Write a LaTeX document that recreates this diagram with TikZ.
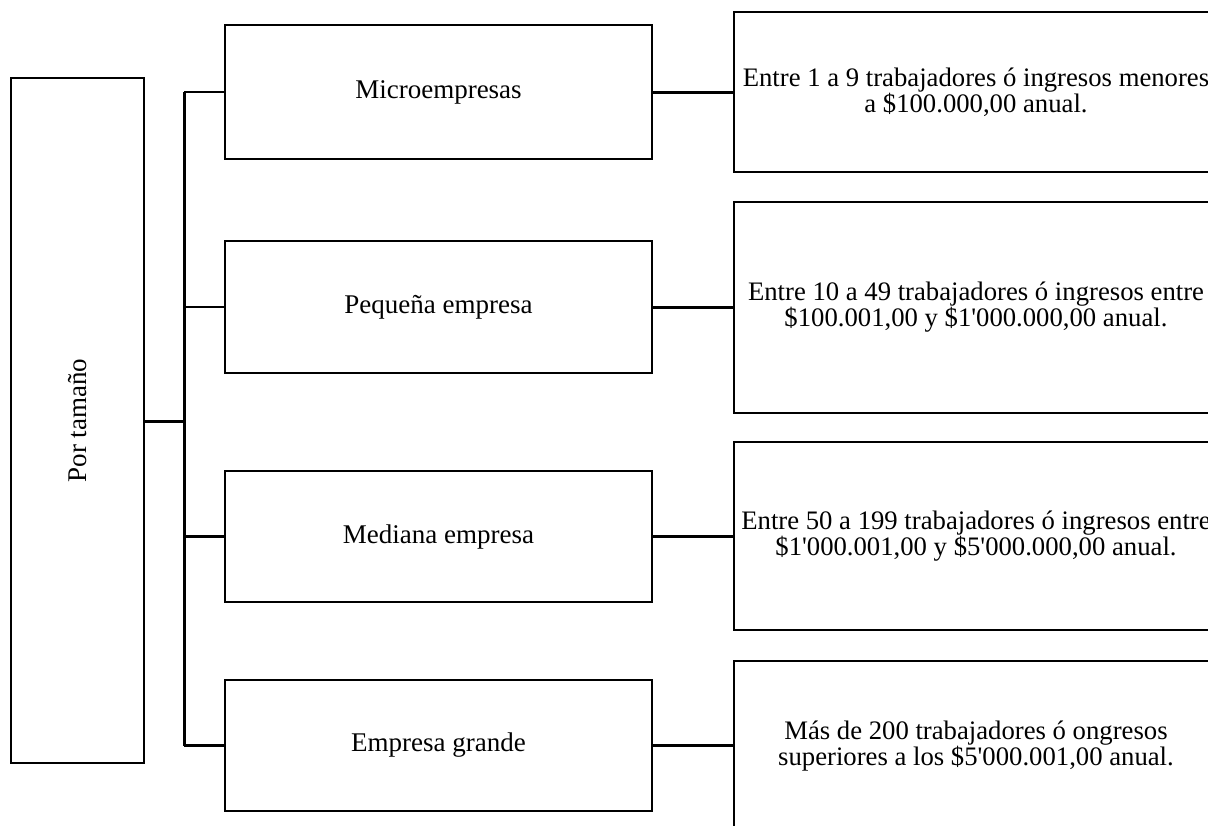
\documentclass[tikz,border=0pt]{standalone}
\usepackage{fontspec}
\setmainfont{Liberation Serif}
\newfontfamily\plainserif{Liberation Serif}
\newcommand{\apo}{{\plainserif'}}
\begin{document}
\begin{tikzpicture}[x=1pt,y=-1pt,
  box/.style={draw=black,line width=2pt,fill=white,inner sep=0pt,align=center,
    font=\fontsize{27}{26}\selectfont},
  midbox/.style={box,minimum width=427pt},
  rbox/.style={box,minimum width=484pt,font=\fontsize{26.7}{26}\selectfont},
  link/.style={line width=3pt},
  branch/.style={line width=2.2pt}]
\useasboundingbox (0,0) rectangle (1208,825);
\clip (0,0) rectangle (1208,825);
\fill[white] (0,0) rectangle (1208,825);
% left box
\node[box,minimum width=133pt,minimum height=685pt] (L) at (77.5,420.5) {};
\node[rotate=90,font=\fontsize{27}{26}\selectfont,inner sep=0pt] (Lt) at (L.center) {Por tamaño};
% middle boxes
\node[midbox,minimum height=134pt] (M1) at (438.5,92) {Microempresas};
\node[midbox,minimum height=132pt] (M2) at (438.5,307) {Pequeña empresa};
\node[midbox,minimum height=131pt] (M3) at (438.5,536.5) {Mediana empresa};
\node[midbox,minimum height=131pt] (M4) at (438.5,745.5) {Empresa grande};
% right boxes
\node[rbox,minimum height=160pt] (R1) at (976,92) {Entre 1 a 9 trabajadores ó ingresos menores\\a \$100.000,00 anual.};
\node[rbox,minimum height=211pt] (R2) at (976,307.5) {Entre 10 a 49 trabajadores ó ingresos entre\\\$100.001,00 y \$1\apo000.000,00 anual.};
\node[rbox,minimum height=188pt] (R3) at (976,536) {Entre 50 a 199 trabajadores ó ingresos entre\\\$1\apo000.001,00 y \$5\apo000.000,00 anual.};
\node[rbox,minimum height=170pt] (R4) at (976,746) {Más de 200 trabajadores ó ongresos\\superiores a los \$5\apo000.001,00 anual.};
% connectors
\coordinate (T) at (184,421);
\draw[link] (L.east |- T) -- (T);
\draw[link] (M1.west -| T) -- (M4.west -| T);
\draw[branch] (M1.west -| T) -- (M1.west);
\draw[branch] (M2.west -| T) -- (M2.west);
\draw[branch] (M3.west -| T) -- (M3.west);
\draw[branch] (M4.west -| T) -- (M4.west);
\draw[link] (M1.east) -- (M1.east -| R1.west);
\draw[link] (M2.east) -- (M2.east -| R2.west);
\draw[link] (M3.east) -- (M3.east -| R3.west);
\draw[link] (M4.east) -- (M4.east -| R4.west);
\end{tikzpicture}
\end{document}
